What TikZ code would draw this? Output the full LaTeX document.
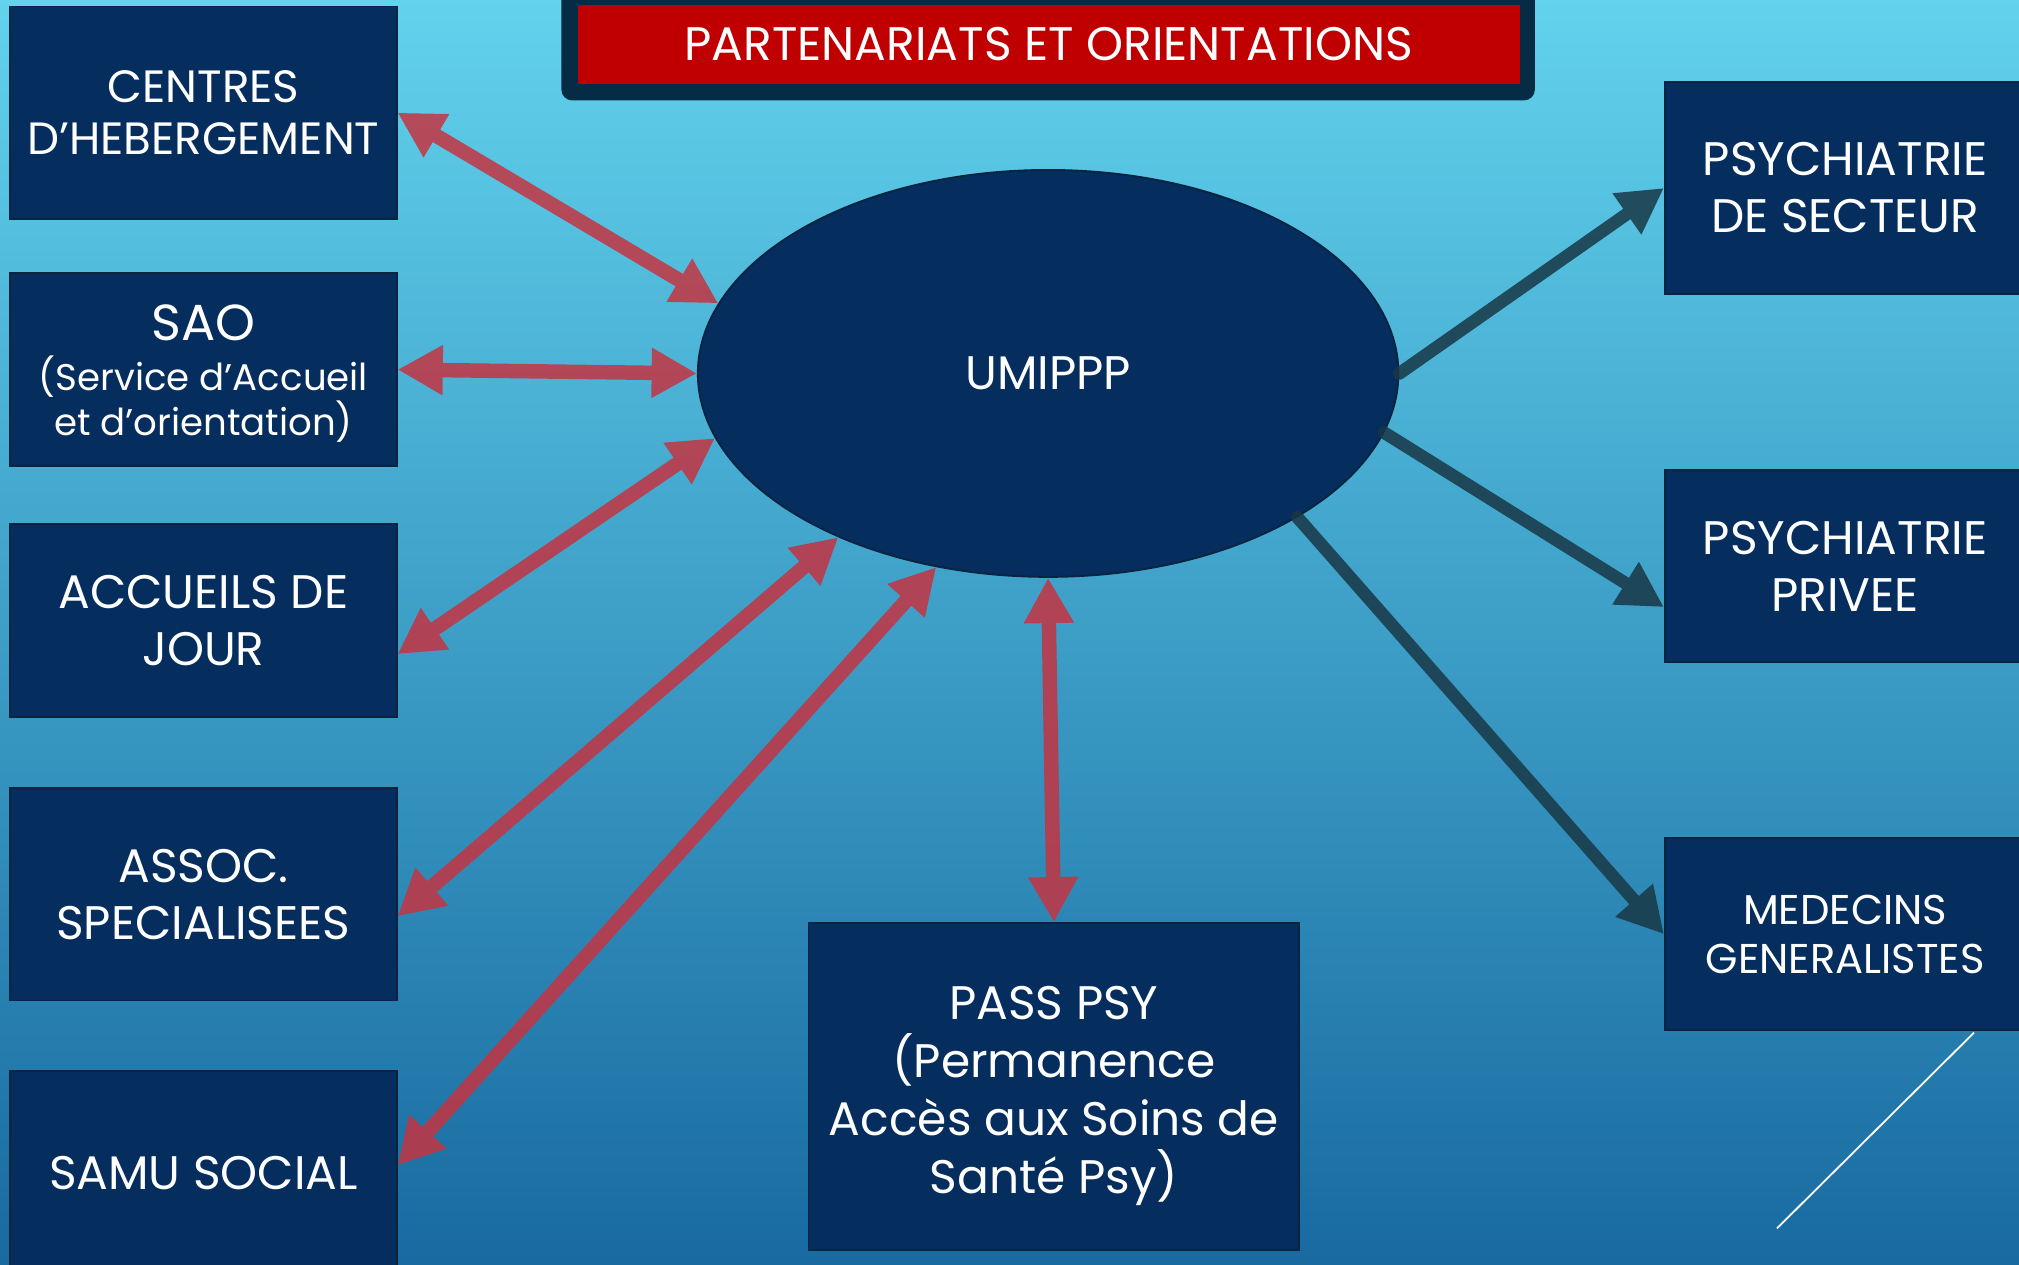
\documentclass[tikz,border=0pt]{standalone}
\usepackage{fontspec}
\setmainfont{Poppins}
\usetikzlibrary{arrows.meta,shapes.geometric,calc}
\definecolor{navy}{RGB}{5,45,94}
\definecolor{boxline}{RGB}{8,36,64}
\definecolor{titledark}{RGB}{6,43,68}
\definecolor{titlered}{RGB}{192,0,0}
\definecolor{redc}{RGB}{196,52,66}
\definecolor{darkc}{RGB}{24,56,70}
\definecolor{bgtop}{RGB}{98,210,237}
\definecolor{bgmid}{RGB}{58,158,204}
\definecolor{bgbot}{RGB}{24,106,160}
\begin{document}
\begin{tikzpicture}[x=0.025cm,y=-0.025cm,
  box/.style={rectangle, fill=navy, draw=boxline, line width=1pt, text=white,
    align=center, inner sep=0pt, font=\fontsize{26}{31.5}\selectfont},
  boxtext/.style={text=white, align=center, inner sep=0pt},
  redarrow/.style={line width=8pt, draw=redc, fill=redc,
    {Triangle[width=26pt,length=25pt]}-{Triangle[width=26pt,length=25pt]}},
  darkarrow/.style={line width=7pt, draw=darkc, fill=darkc, line cap=round,
    -{Triangle[width=26pt,length=25pt]}}]
\useasboundingbox (0,0) rectangle (1568,982);
\clip (0,0) rectangle (1568,982);
\shade[top color=bgtop, middle color=bgmid, bottom color=bgbot] (0,0) rectangle (1568,982);

% title
\fill[titledark, rounded corners=6pt] (436,-20) rectangle (1192,78);
\node[rectangle, fill=titlered, inner sep=0pt, minimum width=18.275cm, minimum height=1.525cm,
  text=white, font=\fontsize{26}{30}\selectfont] (title) at (814.5,34.5) {PARTENARIATS ET ORIENTATIONS};

% left boxes
\node[box, minimum width=7.5cm, minimum height=4.125cm, font=\fontsize{25}{28.4}\selectfont] (centres) at (158,87.5) {CENTRES\\D’HEBERGEMENT};
\node[box, minimum width=7.5cm, minimum height=3.75cm] (sao) at (158,287) {};
\node[boxtext, font=\fontsize{20.5}{24.8}\selectfont] (saotxt) at (158,290)
  {{\fontsize{28}{30}\selectfont SAO}\\[3pt](Service d’Accueil\\et d’orientation)};
\node[box, minimum width=7.5cm, minimum height=3.75cm] (acc) at (158,482) {ACCUEILS DE\\JOUR};
\node[box, minimum width=7.5cm, minimum height=4.125cm] (assoc) at (158,694.5) {ASSOC.\\SPECIALISEES};
\node[box, minimum width=7.5cm, minimum height=3.95cm] (samu) at (158,911) {SAMU SOCIAL};

% right boxes
\node[box, minimum width=7cm, minimum height=4.1cm] (psy1) at (1433,146) {PSYCHIATRIE\\DE SECTEUR};
\node[box, minimum width=7cm, minimum height=3.725cm] (psy2) at (1433,439.5) {PSYCHIATRIE\\PRIVEE};
\node[box, minimum width=7cm, minimum height=3.725cm, font=\fontsize{23}{27}\selectfont] (med) at (1433,725.5) {MEDECINS\\GENERALISTES};

% bottom box
\node[box, minimum width=9.525cm, minimum height=6.35cm] (pass) at (818.5,844) {};
\node[boxtext, font=\fontsize{26}{32}\selectfont] (passtxt) at (818.5,851)
  {PASS PSY\\(Permanence\\Accès aux Soins de\\Santé Psy)};

% ellipse
\node[ellipse, fill=navy, draw=boxline, line width=1pt, minimum width=13.6cm, minimum height=7.9cm,
  inner sep=0pt, text=white, font=\fontsize{26}{30}\selectfont] (umi) at (814,290) {UMIPPP};

% red double arrows
\begin{scope}[transparency group, opacity=0.85]
\draw[redarrow] (centres.east) -- (umi.168.6);
\draw[redarrow] (sao.east) -- (umi.west);
\draw[redarrow] ($(acc.east)+(0,26)$) -- (umi.191.4);
\draw[redarrow] ($(assoc.east)+(0,17)$) -- (umi.218.3);
\draw[redarrow] ($(samu.east)+(0,-6)$) -- (umi.240.2);
\draw[redarrow] (pass.north) -- (umi.south);
\end{scope}

% dark arrows
\begin{scope}[transparency group, opacity=0.85]
\draw[darkarrow] (umi.east) -- (psy1.west);
\draw[darkarrow] (umi.-10.5) -- ($(psy2.west)+(0,32)$);
\draw[darkarrow] (umi.-30) -- (med.west);
\end{scope}

% decorative white line
\coordinate (w1) at (1533,802);
\coordinate (w2) at (1380,954);
\draw[white, line width=1pt] (w1) -- (w2);
\end{tikzpicture}
\end{document}
